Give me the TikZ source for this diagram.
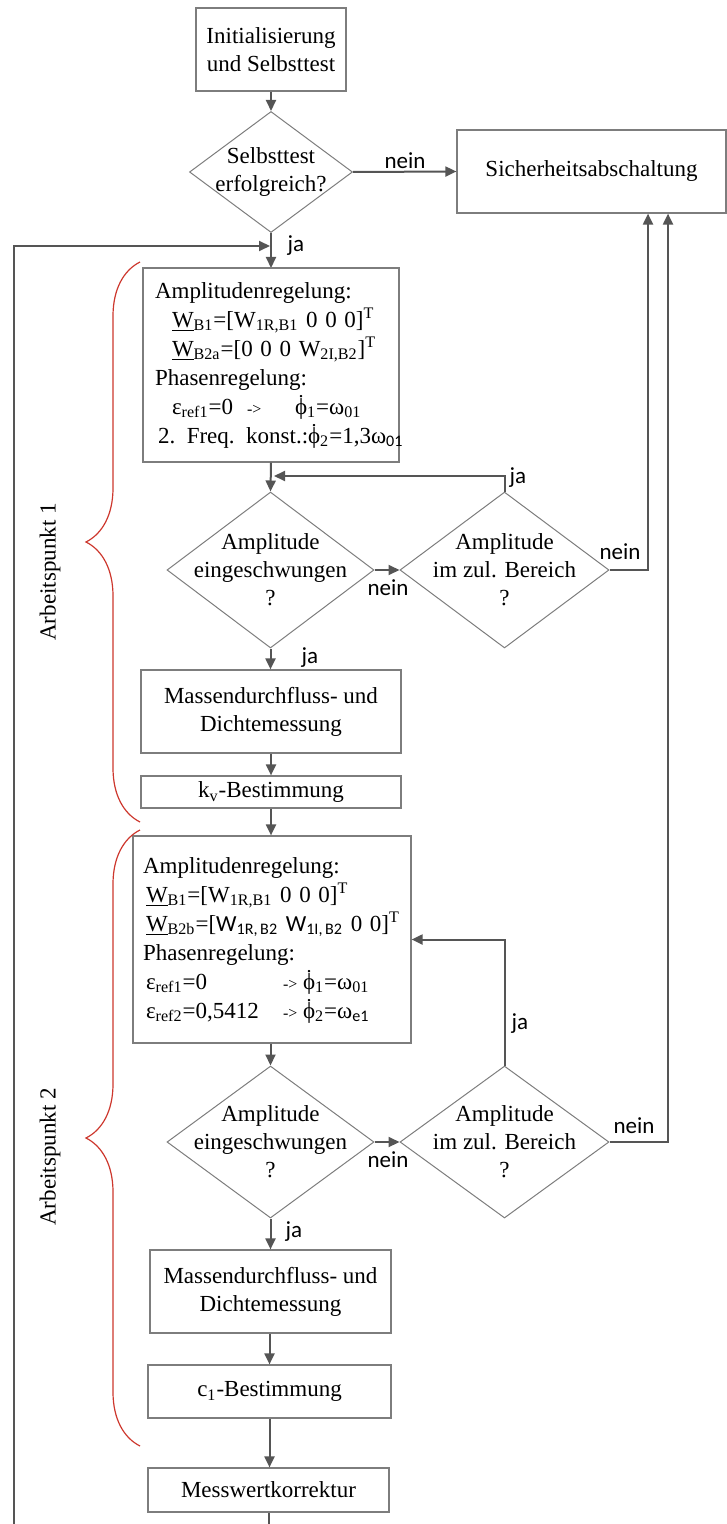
\documentclass[tikz,border=0pt]{standalone}
\usepackage{amsmath}
\usepackage{fontspec}
\setmainfont{Liberation Serif}
\newfontfamily\carlito{Carlito}
\usepackage{tikz}
\usetikzlibrary{arrows.meta,shapes.geometric,decorations.pathreplacing,calc}
\usepackage{xcolor}

\definecolor{linegray}{RGB}{85,85,85}
\definecolor{boxgray}{RGB}{125,125,125}
\definecolor{bracered}{RGB}{205,55,45}

\newcommand{\phidot}{\ooalign{ϕ\cr\hidewidth\smash{\raisebox{8.2pt}{\fontsize{10pt}{10pt}\selectfont .}}\hidewidth\cr}}
\newcommand{\pfeil}{{\fontsize{8pt}{8pt}\selectfont ->}}

\begin{document}
\begin{tikzpicture}[
    x=0.5pt, y=-0.5pt,
    >={Triangle[length=5.5pt,width=5pt]},
    font=\fontsize{11.5pt}{14pt}\selectfont,
    procbox/.style={draw=boxgray, line width=0.6pt, align=center, inner sep=0pt},
    listbox/.style={procbox, align=left, font=\fontsize{11.5pt}{14.5pt}\selectfont},
    decision/.style={diamond, draw=boxgray, line width=0.5pt, inner sep=0pt},
    flow/.style={->, draw=linegray, line width=1pt},
    armlabel/.style={font=\carlito\fontsize{11.5pt}{14pt}\selectfont, inner sep=1pt},
    apbrace/.style={draw=bracered, line width=0.6pt, decorate, decoration={brace, amplitude=27pt}},
  ]
  \useasboundingbox (0,0) rectangle (727,1524);

  % ========= START =========
  \node[procbox, minimum width=75pt, minimum height=41.5pt] (init) at (271,49.5) {Initialisierung\\und Selbsttest};
  \node[decision, minimum width=81.5pt, minimum height=60.5pt] (test) at (271,172) {};
  \node[align=center] (testtxt) at (271,172) {Selbsttest\\erfolgreich?};
  \node[procbox, minimum width=134.5pt, minimum height=41.5pt] (stop) at (591.5,171.5) {Sicherheitsabschaltung};

  \draw[flow] (init.south) -- (test.north);
  \draw[flow] (test.east) -- (stop.west);
  \node[armlabel] (nein0) at (405,161) {nein};
  \draw[flow] (test.south) -- (test.south |- 0,268);
  \node[armlabel] (ja0) at (296,246) {ja};

  % Loop back
  \coordinate (loopbot) at (14,1524);
  \coordinate (loopin) at (270,246);
  \draw[flow] (loopbot) |- (loopin);

  % ========= ARBEITSPUNKT 1 =========
  \node[listbox, text width=116pt, inner xsep=6pt, minimum height=97pt] (ap1) at (271,365) {Amplitudenregelung:\\
    \hspace*{8.5pt}\underline{W}\textsubscript{B1}=[W\textsubscript{1R,B1} 0 0 0]\textsuperscript{T}\\
    \hspace*{8.5pt}\underline{W}\textsubscript{B2a}=[0 0 0 W\textsubscript{2I,B2}]\textsuperscript{T}\\
    Phasenregelung:\\
    \hspace*{8.5pt}\makebox[37.5pt][l]{ε\textsubscript{ref1}=0}\makebox[24pt][l]{\pfeil}\phidot\textsubscript{1}=ω\textsubscript{01}\\
    \mbox{\hspace*{1.5pt}2. Freq. konst.:\phidot\textsubscript{2}=1,3ω{\carlito\textsubscript{01}}}};

  \node[decision, minimum width=103.5pt, minimum height=78pt] (amp1) at (270.5,570) {};
  \node[align=center] (amp1txt) at (270.5,570) {Amplitude\\eingeschwungen\\?};
  \node[decision, minimum width=104.5pt, minimum height=78pt] (ber1) at (504.5,570) {};
  \node[align=center] (ber1txt) at (504.5,570) {Amplitude\\im zul. Bereich\\?};

  \node[procbox, minimum width=130pt, minimum height=41.5pt] (mass1) at (271,711.5) {Massendurchfluss- und\\Dichtemessung};
  \node[procbox, minimum width=130pt, minimum height=16pt] (kv) at (271,792) {k\textsubscript{v}-Bestimmung};

  \draw[flow] (ap1.south) -- (amp1.north);
  \coordinate (back1) at (274,476);
  \draw[flow] (ber1.north) |- (back1);
  \node[armlabel] (ja1) at (518,478) {ja};
  \draw[flow] (amp1.east) -- (ber1.west);
  \node[armlabel] (nein1) at (388,588) {nein};
  \draw[flow] (ber1.east) -| ($(stop.south)+(56.5,0)$);
  \node[armlabel] (nein2) at (620,552) {nein};
  \draw[flow] (amp1.south) -- (amp1.south |- mass1.north);
  \node[armlabel] (ja2) at (310,658) {ja};
  \draw[flow] (mass1.south) -- (kv.north);

  % ========= ARBEITSPUNKT 2 =========
  \node[listbox, text width=129pt, inner xsep=5pt, minimum height=103.5pt] (ap2) at (272,939.5) {Amplitudenregelung:\\
    \hspace*{1.5pt}\underline{W}\textsubscript{B1}=[W\textsubscript{1R,B1} 0 0 0]\textsuperscript{T}\\
    \hspace*{1.5pt}\underline{W}\textsubscript{B2b}=[{\carlito W\textsubscript{1R,\,B2} W\textsubscript{1I,\,B2}} 0 0]\textsuperscript{T}\\
    Phasenregelung:\\
    \hspace*{1.5pt}\makebox[68.5pt][l]{ε\textsubscript{ref1}=0}\makebox[10pt][l]{\pfeil}\phidot\textsubscript{1}=ω\textsubscript{01}\\
    \hspace*{1.5pt}\makebox[68.5pt][l]{ε\textsubscript{ref2}=0,5412}\makebox[10pt][l]{\pfeil}\phidot\textsubscript{2}=ω{\carlito\textsubscript{e1}}};

  \node[decision, minimum width=103.5pt, minimum height=76pt] (amp2) at (270.5,1142) {};
  \node[align=center] (amp2txt) at (270.5,1142) {Amplitude\\eingeschwungen\\?};
  \node[decision, minimum width=104.5pt, minimum height=76pt] (ber2) at (504.5,1142) {};
  \node[align=center] (ber2txt) at (504.5,1142) {Amplitude\\im zul. Bereich\\?};

  \node[procbox, minimum width=120.5pt, minimum height=41.5pt] (mass2) at (270.5,1291.5) {Massendurchfluss- und\\Dichtemessung};
  \node[procbox, minimum width=121.5pt, minimum height=26.5pt] (c1) at (269.5,1391.5) {c\textsubscript{1}-Bestimmung};
  \node[procbox, minimum width=120.5pt, minimum height=22pt] (mess) at (268.5,1490) {Messwertkorrektur};

  \draw[flow] (kv.south) -- (kv.south |- ap2.north);
  \draw[flow] (ap2.south -| amp2.north) -- (amp2.north);
  \draw[flow] (ber2.north) |- (ap2.east);
  \node[armlabel] (ja3) at (520,1024) {ja};
  \draw[flow] (amp2.east) -- (ber2.west);
  \node[armlabel] (nein3) at (388,1160) {nein};
  \draw[flow] (ber2.east) -| ($(stop.south)+(76.5,0)$);
  \node[armlabel] (nein4) at (634,1126) {nein};
  \draw[flow] (amp2.south) -- (amp2.south |- mass2.north);
  \node[armlabel] (ja4) at (294,1232) {ja};
  \draw[flow] (mass2.south -| c1.north) -- (c1.north);
  \draw[flow] (c1.south) -- (c1.south |- mess.north);
  \coordinate (messout) at (268.5,1524);
  \draw[draw=linegray, line width=1pt] (mess.south) -- (messout);

  % Braces
  \draw[apbrace] (140,822) -- (140,262);
  \node[rotate=90] (ap1lbl) at (50,572) {Arbeitspunkt 1};
  \draw[apbrace] (140,1446) -- (140,830);
  \node[rotate=90] (ap2lbl) at (50,1157) {Arbeitspunkt 2};
\end{tikzpicture}
\end{document}
